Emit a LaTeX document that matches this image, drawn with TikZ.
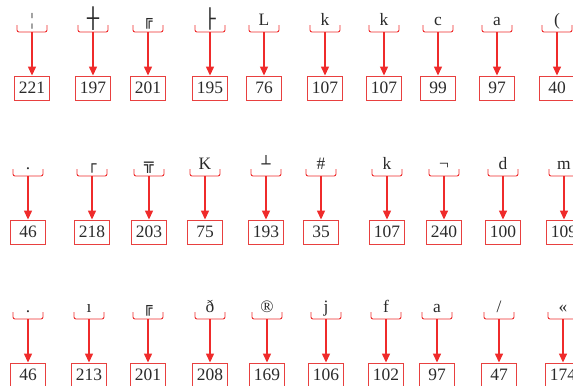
\documentclass[tikz,border=0pt]{standalone}
\usepackage{fontspec}
\setmainfont{Liberation Serif}
\newfontfamily\linefont{DejaVu Sans}
\usetikzlibrary{arrows.meta}
\definecolor{mark}{HTML}{EF2B2B}
\definecolor{frame}{HTML}{E8403F}
\definecolor{digit}{HTML}{2A2A2A}
\tikzset{
  glyph/.style={anchor=base, inner sep=0pt, text=digit,
                font=\fontsize{17.5}{20}\selectfont},
  codebox/.style={draw=frame, line width=0.9pt, minimum width=35bp,
                  minimum height=24bp, inner sep=0pt, text=digit,
                  font=\fontsize{17.5}{20}\selectfont},
  brace/.style={draw=mark, line width=0.9pt, rounded corners=2bp},
  pointer/.style={-{Triangle[length=9bp,width=8bp]}, line width=1.3pt, draw=mark}
}
\newcommand{\bx}[2][15]{{\linefont\fontsize{#1}{18}\selectfont #2}}

\begin{document}
\begin{tikzpicture}[x=1bp,y=-1bp]
  \useasboundingbox (0,0) rectangle (573,385);
  \clip (0,0) rectangle (573,385);

  % first row
  \foreach \x/\s/\c [count=\i] in {32/{¦}/221, 93/{\bx[20]{┼}}/197, 148/{\bx{╔}}/201,
      210/{\bx[19]{├}}/195, 264/L/76, 325/k/107, 384/k/107, 438/c/99, 497/a/97, 557/(/40} {
    \node[glyph] (ga-\i) at (\x,25) {\s};
    \coordinate (ta-\i) at (\x,32);
    \draw[brace] (\x-15,25) -- (\x-15,32) -- (\x+15,32) -- (\x+15,25);
    \node[codebox] (ba-\i) at (\x,88) {\c};
    \draw[pointer] (ta-\i) -- (ba-\i);
  }

  % second row
  \foreach \x/\s/\c [count=\i] in {28/./46, 92/{\bx{┌}}/218, 149/{\bx[16]{╦}}/203,
      205/K/75, 266/{\bx{┴}}/193, 321/\#/35, 387/k/107, 444/¬/240, 503/d/100, 564/m/109} {
    \node[glyph] (gb-\i) at (\x,169) {\s};
    \coordinate (tb-\i) at (\x,176);
    \draw[brace] (\x-15,169) -- (\x-15,176) -- (\x+15,176) -- (\x+15,169);
    \node[codebox] (bb-\i) at (\x,232) {\c};
    \draw[pointer] (tb-\i) -- (bb-\i);
  }

  % third row
  \foreach \x/\s/\c [count=\i] in {28/./46, 89/ı/213, 148/{\bx{╔}}/201,
      210/ð/208, 267/®/169, 326/j/106, 386/f/102, 437/a/97, 499/{/}/47, 563/«/174} {
    \node[glyph] (gc-\i) at (\x,312) {\s};
    \coordinate (tc-\i) at (\x,319);
    \draw[brace] (\x-15,312) -- (\x-15,319) -- (\x+15,319) -- (\x+15,312);
    \node[codebox] (bc-\i) at (\x,375) {\c};
    \draw[pointer] (tc-\i) -- (bc-\i);
  }
\end{tikzpicture}
\end{document}
